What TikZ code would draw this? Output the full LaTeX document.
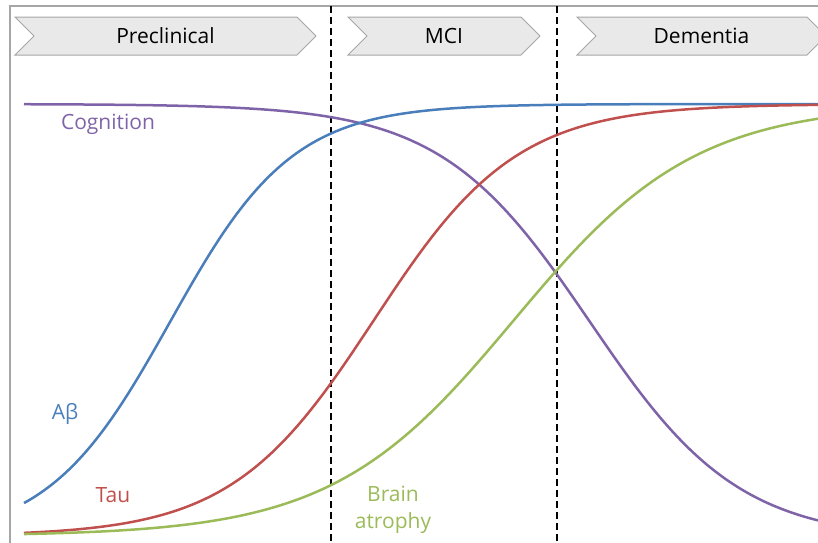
\documentclass[tikz,border=0pt]{standalone}
\usepackage{fontspec}
\setmainfont{Open Sans}
\usetikzlibrary{positioning}
\usetikzlibrary{shapes.symbols}
\definecolor{abblue}{HTML}{4A7EBB}
\definecolor{taured}{HTML}{C0504D}
\definecolor{atrgreen}{HTML}{9BBB59}
\definecolor{cogpurple}{HTML}{7F63A8}
\definecolor{chevfill}{HTML}{E9E9E9}
\definecolor{chevgray}{HTML}{A6A6A6}
\tikzset{
	every path/.style={thick},
	phase/.style={signal, signal from=west, signal to=east, draw=chevgray, fill=chevfill,
		line width=1pt, minimum height=38pt, inner sep=0pt, font=\fontsize{21}{24}\selectfont},
	curve/.style={line width=2.5pt},
	lbl/.style={font=\fontsize{21}{27}\selectfont, align=center},
	phaseline/.style={dash pattern=on 7pt off 4pt, line width=1.6pt},
}

\begin{document}
\begin{tikzpicture}[x=1pt,y=-1pt]
		\useasboundingbox (0,0) rectangle (818,542);
		
		%frame.....................
		\draw [chevgray, line width=2pt] (830,6) -| (10,550);
		
		%phases.....................
		\node [phase, minimum width=301pt] (pre) at (165.5,36) {Preclinical};
		\node [phase, minimum width=192pt] (mci) at (444,36) {MCI};
		\node [phase, minimum width=249pt] (dem) at (701.5,36) {Dementia};
		
		% stage borders...................
		\coordinate (cut1top) at (331,6);
		\coordinate (cut1bot) at (331,542);
		\coordinate (cut2top) at (557,6);
		\coordinate (cut2bot) at (557,542);
		\draw [phaseline] (cut1top) -- (cut1bot);
		\draw [phaseline] (cut2top) -- (cut2bot);
		
		% cognition curve....................
		\draw [curve, cogpurple] plot [domain=24:818, samples=120, smooth]
			(\x, {104+436/(1+exp(-0.0134*(\x-590)))});
		
		% amyloid curve....................
		\draw [curve, abblue] plot [domain=24:818, samples=120, smooth]
			(\x, {104+436/(1+exp(min(9,0.0163*(\x-170))))});
		
		% tau curve....................
		\draw [curve, taured] plot [domain=24:818, samples=120, smooth]
			(\x, {104+432/(1+exp(0.014*(\x-374)))});
		
		% atrophy curve....................
		\draw [curve, atrgreen] plot [domain=24:818, samples=120, smooth]
			(\x, {104+432/(1+exp(0.011*(\x-514)))});
		
		% labels..............................
		\node [lbl, text=cogpurple] (cog) at (108,124) {Cognition};
		\node [lbl, text=abblue] (abeta) at (65,414) {Aβ};
		\node [lbl, text=taured] (tau) at (113,495) {Tau};
		\node [lbl, text=atrgreen] (atrophy) at (393,510) {Brain\\atrophy};
		
	\end{tikzpicture}
\end{document}
